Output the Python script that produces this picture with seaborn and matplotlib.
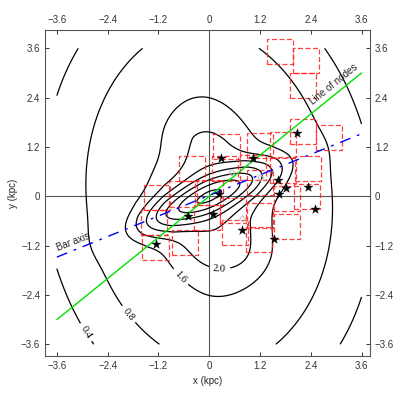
import numpy as np
import pandas as pd
import matplotlib
matplotlib.use('Agg')
import matplotlib.pyplot as plt
from matplotlib.patches import Rectangle
import seaborn as sns

# --- data ---
levels = [0.4, 0.8, 1.6, 2.0, 2.4, 2.8, 3.2, 3.6, 4.0]
label_levels = [0.4, 0.8, 1.6, 2.0]
label_pos = [(-2.64, -3.15), (-1.7, -2.72), (-0.72, -2.0), (0.26, -1.5)]

# disk: elliptical radial profile (radius in units of the 0.8 contour ellipse)
disk_u = [0.0, 0.37, 0.6, 1.0, 1.34, 2.2]
disk_val = [1.95, 1.72, 1.4, 0.8, 0.4, 0.08]
disk_ax = 2.9     # semi-axis of the 0.8 contour across
disk_by = 4.05    # semi-axis of the 0.8 contour along
disk_pa = 96.0

# inner elongated component (same orientation as the disk)
inner_amp = 0.45
inner_sa = 1.9
inner_sb = 0.75

# bar
bar_amp = 1.72
bar_len = 1.87
bar_wid = 0.45
bar_pa = 24.0
bar_pow = 2.6

# extra blobs: amplitude, centre, width
blob_amp = [0.2, 0.1, -0.15]
blob_cx = [1.0, 0.15, -0.9]
blob_cy = [-1.5, -1.15, 0.9]
blob_sig = [0.5, 0.45, 0.45]

# stars
star_x = [0.28, 1.03, 2.08, 1.63, 1.81, 2.34, 1.66, 2.5, 0.22, 0.1, -0.51, 0.77, 1.53, -1.25]
star_y = [0.92, 0.92, 1.53, 0.4, 0.19, 0.22, 0.05, -0.31, 0.06, -0.42, -0.48, -0.81, -1.03, -1.16]

# small open diamonds
dia_x = [0.54, 1.22, 0.79]
dia_y = [0.57, 0.45, -0.55]

# dashed boxes (lower-left corners)
box_x0 = [1.36, 1.97, 1.91, 1.91, 2.52, 2.03, 2.0, 1.44, 1.52, 1.52, 0.89, 0.86, 0.89, 1.44,
          -0.72, -1.55, -1.62, -1.58, -0.88, -0.96, -0.37, 0.3, -0.29, 0.1, 0.06, 0.73, 0.89, 0.26]
box_y0 = [3.22, 3.0, 2.38, 1.26, 1.12, 0.37, -0.32, 0.33, -0.37, -1.05, -0.78, -1.35, 0.92, 0.96,
          0.37, -0.33, -0.94, -1.55, -1.43, -0.25, -0.82, -1.18, -0.21, 0.9, 0.36, 0.4, 0.03, -0.65]
box_w = 0.62
box_h = 0.61

# lines
nodes_x = [-3.6, 3.6]
nodes_y = [-3.0, 3.0]
bar_x = [-3.6, 3.55]
bar_y = [-1.48, 1.5]

ticks = [-3.6, -2.4, -1.2, 0, 1.2, 2.4, 3.6]
tick_labels = ['\u22123.6', '\u22122.4', '\u22121.2', '0', '1.2', '2.4', '3.6']


def rotate(X, Y, cx, cy, pa):
    th = np.deg2rad(pa)
    s = (X - cx) * np.cos(th) + (Y - cy) * np.sin(th)
    t = -(X - cx) * np.sin(th) + (Y - cy) * np.cos(th)
    return s, t


# --- field ---
gx = np.linspace(-3.6, 3.6, 361)
X, Y = np.meshgrid(gx, gx)

s, t = rotate(X, Y, 0.0, 0.0, disk_pa)
u = np.sqrt((s / disk_by) ** 2 + (t / disk_ax) ** 2)
Z = np.exp(np.interp(u, disk_u, np.log(disk_val)))
Z += inner_amp * np.exp(-0.5 * ((s / inner_sa) ** 2 + (t / inner_sb) ** 2))

s, t = rotate(X, Y, 0.0, 0.0, bar_pa)
Z += bar_amp * np.exp(-(np.abs(s) / bar_len) ** bar_pow - (t / bar_wid) ** 2)

for a, cx, cy, sg in zip(blob_amp, blob_cx, blob_cy, blob_sig):
    Z += a * np.exp(-0.5 * ((X - cx) ** 2 + (Y - cy) ** 2) / sg ** 2)

sns.set_style('ticks')
plt.rcParams['font.family'] = ['Liberation Sans', 'DejaVu Sans']

fig = plt.figure(figsize=(4, 4), dpi=100)
ax = fig.add_axes([0.1125, 0.11, 0.8125, 0.815])

ax.axhline(0, color='#555555', lw=0.8, zorder=1)
ax.axvline(0, color='#555555', lw=0.8, zorder=1)

cs = ax.contour(X, Y, Z, levels=levels, colors='black', linewidths=0.9, zorder=2)
plt.rcParams['font.family'] = ['Liberation Serif']
ax.clabel(cs, levels=label_levels, manual=label_pos, inline=True, fontsize=7.5, fmt='%.1f')
plt.rcParams['font.family'] = ['Liberation Sans', 'DejaVu Sans']

for x0, y0 in zip(box_x0, box_y0):
    ax.add_patch(Rectangle((x0, y0), box_w, box_h, fill=False, edgecolor='#ff2020',
                           lw=0.9, ls=(0, (4, 2)), alpha=0.85, zorder=3))

ax.plot(nodes_x, nodes_y, color='#00e000', lw=1.0, zorder=4)
ax.plot(bar_x, bar_y, color='#0000ff', lw=1.0, ls=(0, (8, 5, 2, 5)), zorder=4)

stars = pd.DataFrame({'x': star_x, 'y': star_y})
sns.scatterplot(data=stars, x='x', y='y', marker='*', s=45, color='black',
                edgecolor='black', linewidth=0.3, ax=ax, zorder=5)
ax.scatter(dia_x, dia_y, marker='D', s=10, facecolor='none', edgecolor='#bbbbbb', lw=0.7, zorder=5)

ax.text(2.95, 2.72, 'Line of nodes', rotation=39, fontsize=7, ha='center', va='center',
        rotation_mode='anchor')
ax.text(-3.2, -1.12, 'Bar axis', rotation=21, fontsize=7, ha='center', va='center',
        rotation_mode='anchor')

ax.set_xlim(-3.88, 3.8)
ax.set_ylim(-3.885, 4.045)
ax.set_xticks(ticks)
ax.set_yticks(ticks)
ax.set_xticklabels(tick_labels)
ax.set_yticklabels(tick_labels)
ax.tick_params(direction='in', length=3, width=0.7, labelsize=7, colors='#333333',
               top=True, right=True, labeltop=True, labelright=True)
for sp in ax.spines.values():
    sp.set_color('#555555')
    sp.set_linewidth(0.8)
ax.set_xlabel('x (kpc)', fontsize=7, labelpad=4)
ax.set_ylabel('y (kpc)', fontsize=7, labelpad=2)

fig.savefig('out.png', dpi=100)
